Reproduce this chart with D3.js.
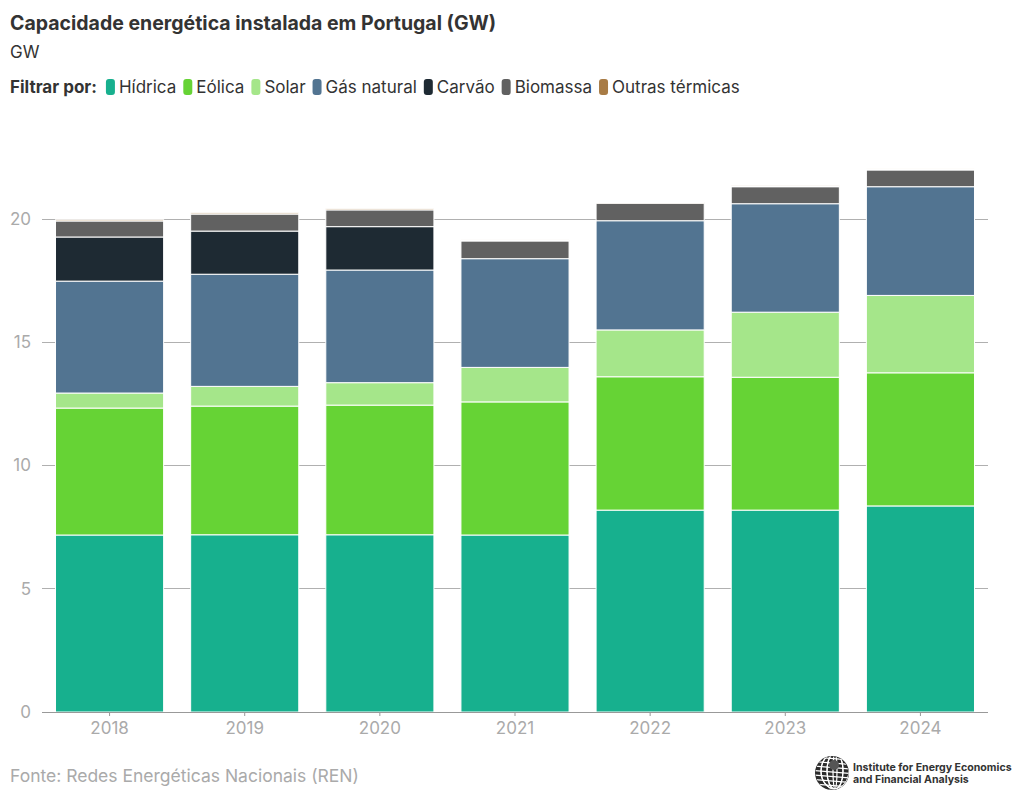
<!DOCTYPE html>
<html><head><meta charset="utf-8">
<script src="https://cdn.jsdelivr.net/npm/d3@7/dist/d3.min.js"></script>
<style>
body{margin:0;background:#fff;font-family:Inter,"Noto Sans",sans-serif;}
svg text{font-family:Inter,"Noto Sans",sans-serif;}
</style></head>
<body>
<svg id="chart" width="1020" height="806"></svg>
<script>
const years = ["2018","2019","2020","2021","2022","2023","2024"];
const seriesNames = ["Hídrica","Eólica","Solar","Gás natural","Carvão","Biomassa","Outras térmicas"];
const hidrica  = [7.18, 7.19, 7.19, 7.18, 8.19, 8.19, 8.36];
const eolica   = [5.15, 5.22, 5.26, 5.40, 5.41, 5.39, 5.40];
const solar    = [0.61, 0.80, 0.91, 1.40, 1.90, 2.64, 3.14];
const gas      = [4.54, 4.55, 4.57, 4.41, 4.43, 4.40, 4.41];
const carvao   = [1.79, 1.75, 1.76, 0.00, 0.00, 0.00, 0.00];
const biomassa = [0.65, 0.69, 0.68, 0.72, 0.71, 0.69, 0.68];
const outras   = [0.05, 0.05, 0.05, 0.04, 0.04, 0.04, 0.04];
const yTicks = [0, 5, 10, 15, 20];
const colors = ["#17b08e","#66d335","#a5e68a","#527491","#1e2a33","#616161","#a87b45"];

const allSeries = [hidrica, eolica, solar, gas, carvao, biomassa, outras];
const table = years.map((y, i) => {
  const o = {year: y};
  seriesNames.forEach((s, k) => o[s] = allSeries[k][i]);
  return o;
});

const svg = d3.select("#chart");
const margin = {left: 42, right: 32};
const W = 1020;

const x = d3.scaleBand().domain(years).range([margin.left, W - margin.right]).paddingInner(0.2).paddingOuter(0.1);
const y = d3.scaleLinear().domain([0, 20]).range([712, 219]);

// title
svg.append("text").attr("x", 10).attr("y", 30).attr("font-size", 19.5).attr("font-weight", 700).attr("fill", "#333")
  .text("Capacidade energética instalada em Portugal (GW)");
svg.append("text").attr("x", 10).attr("y", 58).attr("font-size", 17).attr("fill", "#333").text("GW");

// legend
const leg = svg.append("g").attr("transform", "translate(10,93)");
const lt = leg.append("text").attr("x", 0).attr("y", 0).attr("font-size", 17).attr("font-weight", 700).attr("fill", "#333").text("Filtrar por:");
let lx = lt.node().getComputedTextLength() + 9;
seriesNames.forEach((s, k) => {
  leg.append("rect").attr("x", lx).attr("y", -14).attr("width", 9).attr("height", 16).attr("rx", 3).attr("fill", colors[k]);
  const t = leg.append("text").attr("x", lx + 13).attr("y", 0).attr("font-size", 17).attr("fill", "#333").text(s);
  lx += 13 + t.node().getComputedTextLength() + 7;
});

// gridlines
svg.append("g").selectAll("line").data(yTicks.filter(d => d > 0)).join("line")
  .attr("x1", margin.left).attr("x2", W - margin.right)
  .attr("y1", d => y(d)).attr("y2", d => y(d))
  .attr("stroke", "#b0b0b0").attr("stroke-width", 1).attr("shape-rendering", "crispEdges");

// y axis labels
const yAxis = svg.append("g").attr("transform", `translate(${margin.left},0)`)
  .call(d3.axisLeft(y).tickValues(yTicks).tickSize(0).tickPadding(11));
yAxis.select(".domain").remove();
yAxis.selectAll("text").attr("font-size", 17).attr("fill", "#aaa").attr("font-family", "Inter");

// stacks
const stack = d3.stack().keys(seriesNames)(table);
svg.append("g").selectAll("g").data(stack).join("g").attr("fill", (d, k) => colors[k])
  .selectAll("rect").data(d => d).join("rect")
  .attr("x", d => x(d.data.year))
  .attr("width", x.bandwidth())
  .attr("y", d => y(d[1]))
  .attr("height", d => Math.max(0, y(d[0]) - y(d[1])))
  .attr("stroke", "#fff").attr("stroke-width", d => (d[1] - d[0]) > 0 ? 1 : 0);

// x axis
const xAxis = svg.append("g").attr("transform", "translate(0,712)")
  .call(d3.axisBottom(x).tickSize(4).tickPadding(6));
xAxis.select(".domain").attr("stroke", "#999").attr("d", `M${margin.left},0.5H${W - margin.right}`);
xAxis.selectAll(".tick line").attr("stroke", "#999");
xAxis.selectAll("text").attr("font-size", 17).attr("fill", "#aaa").attr("font-family", "Inter");

// source
svg.append("text").attr("x", 10).attr("y", 782).attr("font-size", 17.5).attr("fill", "#aaa")
  .text("Fonte: Redes Energéticas Nacionais (REN)");

// logo
const logo = svg.append("g").attr("transform", "translate(832,773)");
const defs = svg.append("defs");
defs.append("clipPath").attr("id", "globeClip").append("circle").attr("r", 16.5);
logo.append("circle").attr("r", 17).attr("fill", "#2b2b2b");
const gl = logo.append("g").attr("clip-path", "url(#globeClip)");
for (let i = -16; i <= 16; i += 4.5) {
  gl.append("line").attr("x1", -18).attr("x2", 18).attr("y1", i).attr("y2", i + 3).attr("stroke", "#fff").attr("stroke-width", 1.2);
}
[-12, -6, 0, 6, 12].forEach(v => {
  gl.append("ellipse").attr("cx", 3).attr("cy", -2).attr("rx", Math.abs(v) + 2).attr("ry", 18).attr("fill", "none").attr("stroke", "#fff").attr("stroke-width", 1.2);
});
logo.append("circle").attr("cx", 2).attr("cy", -8).attr("r", 5).attr("fill", "#555");
logo.append("text").attr("x", 21).attr("y", -2).attr("font-size", 10.6).attr("font-weight", 700).attr("fill", "#333").text("Institute for Energy Economics");
logo.append("text").attr("x", 21).attr("y", 10).attr("font-size", 10.6).attr("font-weight", 700).attr("fill", "#333").text("and Financial Analysis");
</script>
</body></html>
